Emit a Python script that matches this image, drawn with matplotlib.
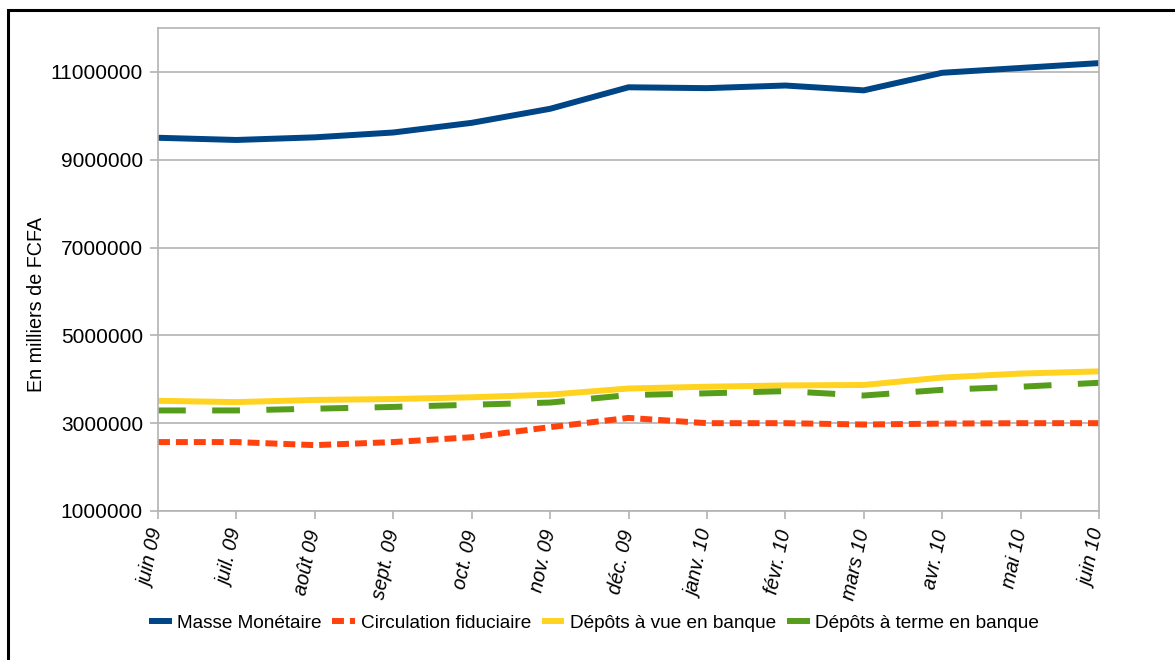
import matplotlib
matplotlib.use("Agg")
import matplotlib.pyplot as plt
from matplotlib.patches import Rectangle

plt.rcParams['font.family'] = ['Liberation Sans', 'DejaVu Sans']

months = ['juin 09', 'juil. 09', 'août 09', 'sept. 09', 'oct. 09', 'nov. 09',
          'déc. 09', 'janv. 10', 'févr. 10', 'mars 10', 'avr. 10', 'mai 10',
          'juin 10']

masse = [9500000, 9450000, 9510000, 9620000, 9840000, 10160000, 10650000,
         10630000, 10690000, 10580000, 10980000, 11090000, 11200000]
circulation = [2570000, 2570000, 2500000, 2570000, 2680000, 2910000, 3120000,
               3000000, 3000000, 2970000, 2990000, 3000000, 3000000]
depots_vue = [3510000, 3480000, 3530000, 3550000, 3590000, 3650000, 3790000,
              3830000, 3860000, 3870000, 4040000, 4130000, 4180000]
depots_terme = [3290000, 3290000, 3330000, 3370000, 3420000, 3470000, 3640000,
                3680000, 3730000, 3630000, 3760000, 3830000, 3920000]

series = [
    ('Masse Monétaire', masse, '#004586', None),
    ('Circulation fiduciaire', circulation, '#ff420e', (8.6, 4.3)),
    ('Dépôts à vue en banque', depots_vue, '#ffd320', None),
    ('Dépôts à terme en banque', depots_terme, '#579d1c', (20, 19)),
]

plt.rcParams['lines.scale_dashes'] = False

fig = plt.figure(figsize=(11.75, 6.6), dpi=100)
ax = fig.add_axes([158 / 1175, 1 - 511 / 660, (1099 - 158) / 1175, (511 - 28) / 660])

x = list(range(len(months)))
for name, vals, color, dash in series:
    if dash is None:
        ax.plot(x, vals, color=color, lw=4.3, label=name, solid_capstyle='butt')
    else:
        ax.plot(x, vals, color=color, lw=4.3, label=name, dashes=dash,
                dash_capstyle='butt')

ax.set_xlim(0, 12)
ax.set_ylim(1000000, 12000000)
ax.set_yticks(range(1000000, 12000001, 2000000))
ax.yaxis.set_major_formatter(plt.FuncFormatter(lambda v, p: '%d' % v))
ax.set_xticks(x)
ax.set_xticklabels(months, rotation=78, ha='right', va='center',
                   rotation_mode='anchor', style='italic')

ax.grid(axis='y', color='#b3b3b3', lw=1.2)
ax.set_axisbelow(True)
for s in ax.spines.values():
    s.set_color('#b3b3b3')
    s.set_linewidth(1.2)
ax.tick_params(axis='both', colors='#b3b3b3', length=5.8, width=1.2,
               labelcolor='black', labelsize=15, pad=5)
ax.tick_params(axis='x', pad=8, labelsize=14.3)

fig.text(37 / 1175, 1 - 305 / 660, 'En milliers de FCFA', rotation=90,
         ha='center', va='center', fontsize=14.2)

ax.legend(loc='center', bbox_to_anchor=(594 / 1175, 1 - 623 / 660),
          bbox_transform=fig.transFigure, ncol=4, frameon=False,
          fontsize=13.7, handlelength=1.2, handletextpad=0.3,
          columnspacing=0.55)

fig.add_artist(Rectangle((7.5 / 1175, -0.1), 1.2, 1.1 - 9.7 / 660,
                         transform=fig.transFigure, fill=False,
                         ec='black', lw=2.2))

fig.savefig('out.png', dpi=100)
